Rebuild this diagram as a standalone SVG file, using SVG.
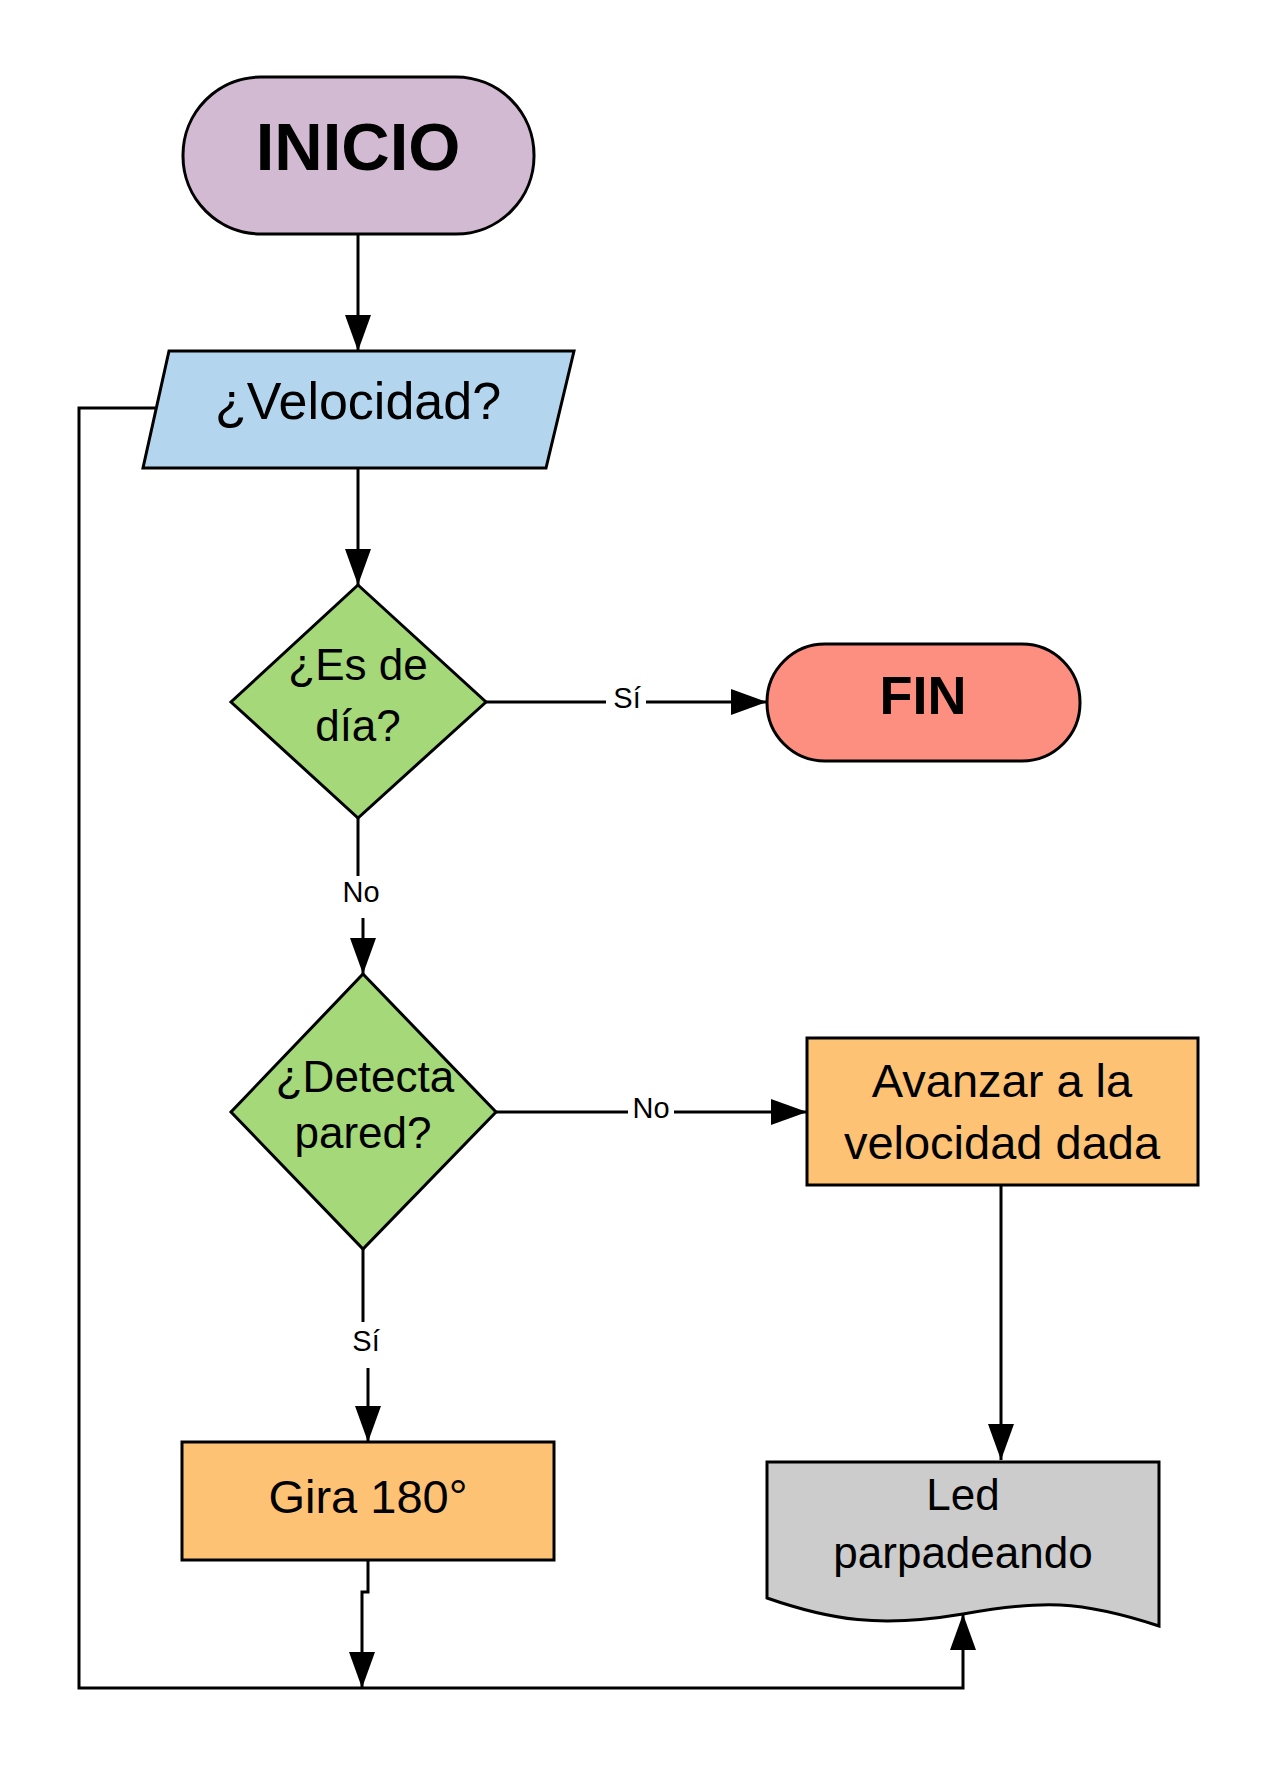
<svg xmlns="http://www.w3.org/2000/svg" width="1280" height="1779" viewBox="0 0 1280 1779">
<style>
.s{stroke:#000;stroke-width:3}
text{font-family:"Liberation Sans",Arial,sans-serif;text-anchor:middle;fill:#000}
.l{font-size:29px}
.c{fill:none;stroke:#000;stroke-width:3}
</style>
<defs><marker id="a" markerWidth="12" markerHeight="10" refX="11" refY="5" orient="auto" markerUnits="userSpaceOnUse" viewBox="0 0 12 10"><path d="M0,0L12,5L0,10z" fill="#000"/></marker>
<marker id="b" markerWidth="36" markerHeight="30" refX="36" refY="15" orient="auto" markerUnits="userSpaceOnUse" viewBox="0 0 36 30"><path d="M0,2L36,15L0,28z" fill="#000"/></marker></defs>
<rect width="1280" height="1779" fill="#fff"/>
<g id="connectors">
<path class="c" d="M358,234V351" marker-end="url(#b)"/>
<path class="c" d="M358,468V585" marker-end="url(#b)"/>
<path class="c" d="M486,702H767" marker-end="url(#b)"/>
<path class="c" d="M358,818V876M363,918V974" marker-end="url(#b)"/>
<path class="c" d="M496,1112H807" marker-end="url(#b)"/>
<path class="c" d="M363,1249V1322M368,1368V1442" marker-end="url(#b)"/>
<path class="c" d="M1001,1185V1460" marker-end="url(#b)"/>
<path class="c" d="M368,1560V1592H362V1688" marker-end="url(#b)"/>
<path class="c" d="M155,408H79V1688H963V1614" marker-end="url(#b)"/>
<rect x="606" y="682" width="40" height="32" fill="#fff"/>
<text class="l" x="627" y="708">Sí</text>
<text class="l" x="361" y="902">No</text>
<rect x="628" y="1092" width="46" height="32" fill="#fff"/>
<text class="l" x="651" y="1118">No</text>
<text class="l" x="366" y="1351">Sí</text>
</g>
<g id="inicio"><rect class="s" x="183" y="77" width="351" height="157" rx="78" fill="#d2bbd2"/><text x="358" y="170" font-size="67" font-weight="bold">INICIO</text></g>
<g id="velocidad"><path class="s" d="M169,351H574L546,468H143Z" fill="#b3d5ee"/><text x="358" y="419" font-size="52">¿Velocidad?</text></g>
<g id="esdia"><path class="s" d="M358,585L486,702L358,818L231,702Z" fill="#a4d878"/><text x="358" y="680" font-size="44">¿Es de</text><text x="358" y="741" font-size="44">día?</text></g>
<g id="fin"><rect class="s" x="767" y="644" width="313" height="117" rx="58" fill="#fd8f80"/><text x="923" y="714" font-size="54" font-weight="bold">FIN</text></g>
<g id="pared"><path class="s" d="M363,974L496,1112L363,1249L231,1112Z" fill="#a4d878"/><text x="365" y="1092" font-size="44">¿Detecta</text><text x="363" y="1148" font-size="44">pared?</text></g>
<g id="avanzar"><rect class="s" x="807" y="1038" width="391" height="147" fill="#fec274"/><text x="1002" y="1097" font-size="47">Avanzar a la</text><text x="1002" y="1159" font-size="47">velocidad dada</text></g>
<g id="gira"><rect class="s" x="182" y="1442" width="372" height="118" fill="#fec274"/><text x="368" y="1513" font-size="47">Gira 180°</text></g>
<g id="led"><path class="s" d="M767,1462H1159V1626C1080,1600 1040,1600 963,1614C880,1628 830,1620 767,1598Z" fill="#cccccc"/><text x="963" y="1510" font-size="44">Led</text><text x="963" y="1568" font-size="44">parpadeando</text></g>
</svg>
